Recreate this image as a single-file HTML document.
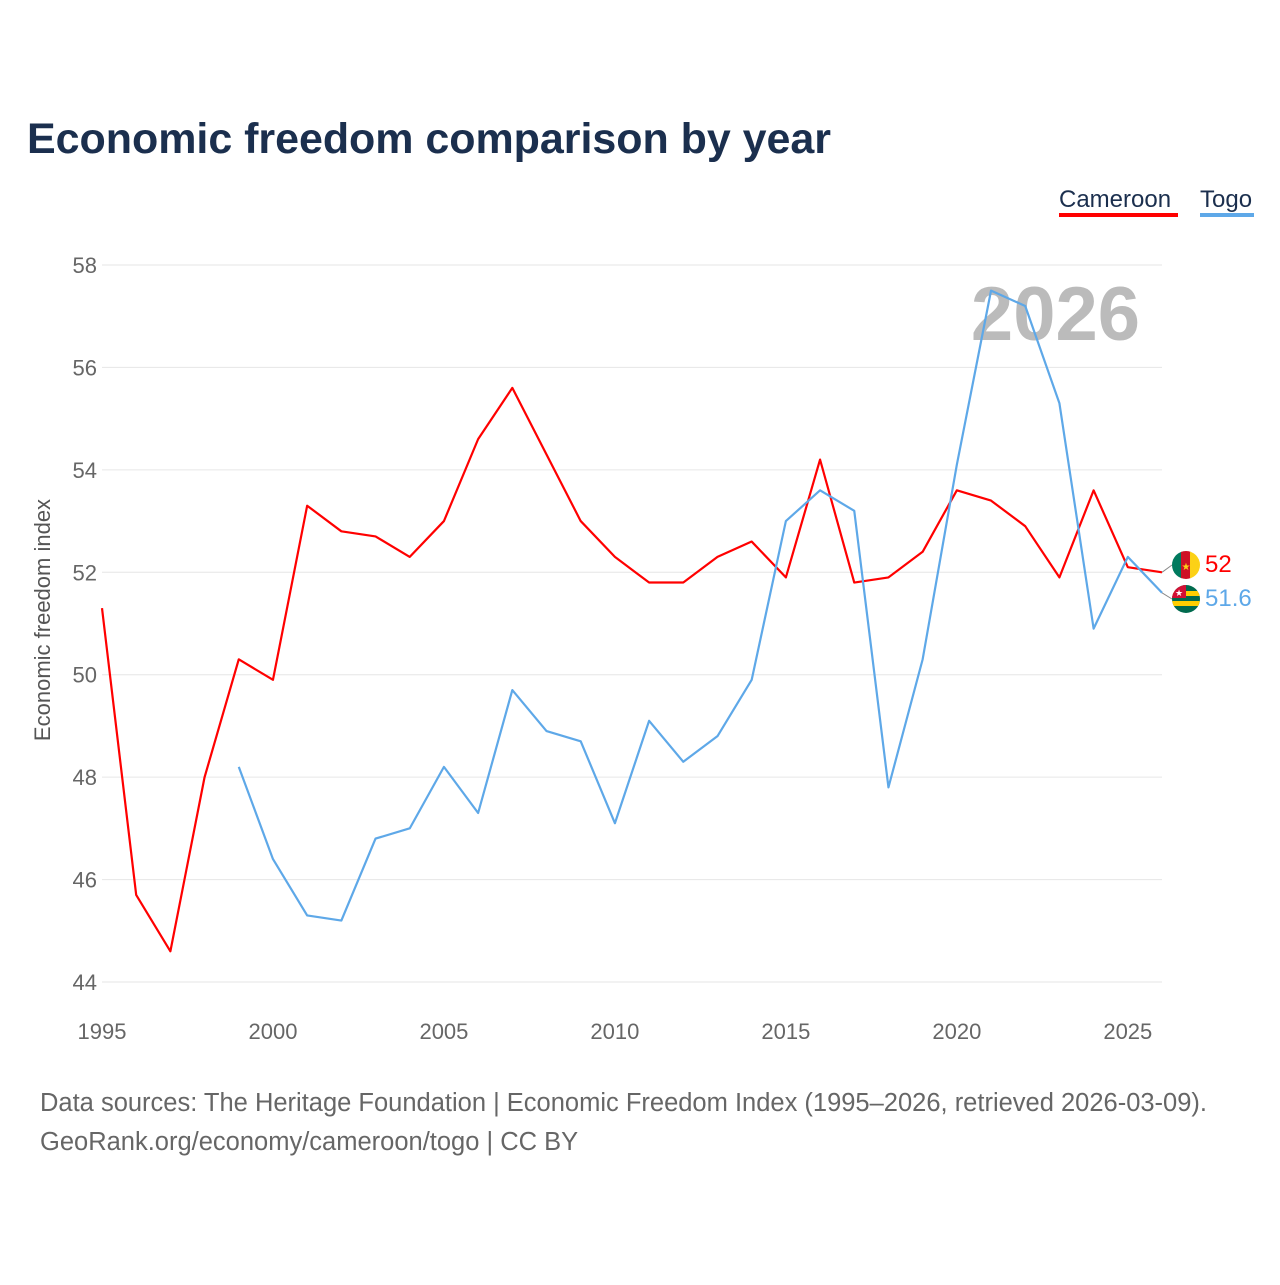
<!DOCTYPE html>
<html><head><meta charset="utf-8"><style>
body{margin:0;background:#fff;font-family:"Liberation Sans",sans-serif;}
</style></head><body>
<svg width="1280" height="1280" xmlns="http://www.w3.org/2000/svg" id="chart">
<defs><clipPath id="cc"><circle cx="1186" cy="565" r="14"/></clipPath><clipPath id="ct"><circle cx="1186" cy="599" r="14"/></clipPath></defs>
<rect width="1280" height="1280" fill="#fff"/>
<text x="27" y="153" font-size="43" font-weight="bold" fill="#1b2f4e" textLength="804">Economic freedom comparison by year</text>
<g>
<text x="1059" y="207" font-size="24" fill="#1b2f4e">Cameroon</text>
<rect x="1059" y="213" width="119" height="4" fill="#ff0000"/>
<text x="1200" y="207" font-size="24" fill="#1b2f4e">Togo</text>
<rect x="1200" y="213" width="54" height="4" fill="#5ea8e8"/>
</g>
<text x="1140" y="340" font-size="76" font-weight="bold" fill="#bbbbbb" text-anchor="end">2026</text>
<g id="grid"></g><g id="lines"></g>
<text transform="translate(50,620) rotate(-90)" font-size="22" fill="#555" text-anchor="middle">Economic freedom index</text>
<text x="40" y="1111" font-size="25.5" fill="#666" textLength="1167">Data sources: The Heritage Foundation | Economic Freedom Index (1995–2026, retrieved 2026-03-09).</text>
<text x="40" y="1150" font-size="25.5" fill="#666">GeoRank.org/economy/cameroon/togo | CC BY</text>
</svg>
<script>
const yTicks=[44,46,48,50,52,54,56,58];
const xTicks=[1995,2000,2005,2010,2015,2020,2025];
const cameroonYears=[1995,1996,1997,1998,1999,2000,2001,2002,2003,2004,2005,2006,2007,2008,2009,2010,2011,2012,2013,2014,2015,2016,2017,2018,2019,2020,2021,2022,2023,2024,2025,2026];
const cameroonValues=[51.3,45.7,44.6,48.0,50.3,49.9,53.3,52.8,52.7,52.3,53.0,54.6,55.6,54.3,53.0,52.3,51.8,51.8,52.3,52.6,51.9,54.2,51.8,51.9,52.4,53.6,53.4,52.9,51.9,53.6,52.1,52.0];
const togoYears=[1999,2000,2001,2002,2003,2004,2005,2006,2007,2008,2009,2010,2011,2012,2013,2014,2015,2016,2017,2018,2019,2020,2021,2022,2023,2024,2025,2026];
const togoValues=[48.2,46.4,45.3,45.2,46.8,47.0,48.2,47.3,49.7,48.9,48.7,47.1,49.1,48.3,48.8,49.9,53.0,53.6,53.2,47.8,50.3,54.1,57.5,57.2,55.3,50.9,52.3,51.6];
const NS="http://www.w3.org/2000/svg";
const X=v=>102+(v-1995)*(1060/31);
const Y=v=>982-(v-44)*(717/14);
function mk(t,a,p){const e=document.createElementNS(NS,t);for(const k in a)e.setAttribute(k,a[k]);p.appendChild(e);return e;}
const grid=document.getElementById('grid');
yTicks.forEach(t=>{
  const l=mk('line',{x1:102,x2:1162,y1:Y(t),y2:Y(t),stroke:'#e6e6e6','stroke-width':1},grid);
  
  
  const tx=mk('text',{x:97,y:Y(t)+8,'font-size':22,fill:'#666','text-anchor':'end'},grid);
  tx.textContent=t;
  
  
});
xTicks.forEach(t=>{
  const tx=mk('text',{x:X(t),y:1039,'font-size':22,fill:'#666','text-anchor':'middle'},grid);
  tx.textContent=t;
  
  
});
const lines=document.getElementById('lines');
function series(ys,vs,c,name){
  const p=mk('polyline',{points:ys.map((y,i)=>X(y)+','+Y(vs[i])).join(' '),fill:'none',stroke:c,'stroke-width':2.2,'stroke-linejoin':'round'},lines);
  
  
}
series(cameroonYears,cameroonValues,'#ff0000','cameroon-line');
series(togoYears,togoValues,'#5ea8e8','togo-line');
const cl=cameroonValues[cameroonValues.length-1], tl=togoValues[togoValues.length-1];
mk('line',{x1:1162,y1:Y(cl),x2:1172,y2:565,stroke:'#888'},lines);
mk('line',{x1:1162,y1:Y(tl),x2:1172,y2:599,stroke:'#888'},lines);
const fc=mk('g',{'clip-path':'url(#cc)'},lines);


mk('rect',{x:1172,y:551,width:10,height:28,fill:'#007a5e'},fc);
mk('rect',{x:1181,y:551,width:10,height:28,fill:'#ce1126'},fc);
mk('rect',{x:1190,y:551,width:10,height:28,fill:'#fcd116'},fc);
mk('text',{x:1186,y:570,'font-size':10,fill:'#fcd116','text-anchor':'middle'},fc).textContent='★';
const ft=mk('g',{'clip-path':'url(#ct)'},lines);


mk('rect',{x:1172,y:585,width:28,height:28,fill:'#006a4e'},ft);
mk('rect',{x:1172,y:591,width:28,height:5,fill:'#ffce00'},ft);
mk('rect',{x:1172,y:601,width:28,height:5,fill:'#ffce00'},ft);
mk('rect',{x:1172,y:585,width:14,height:13,fill:'#d21034'},ft);
mk('text',{x:1179,y:596,'font-size':9,fill:'#fff','text-anchor':'middle'},ft).textContent='★';
const t1=mk('text',{x:1205,y:572,'font-size':24,fill:'#ff0000'},lines);t1.textContent=cl;


const t2=mk('text',{x:1205,y:606,'font-size':24,fill:'#5ea8e8'},lines);t2.textContent=tl;


</script>
</body></html>
